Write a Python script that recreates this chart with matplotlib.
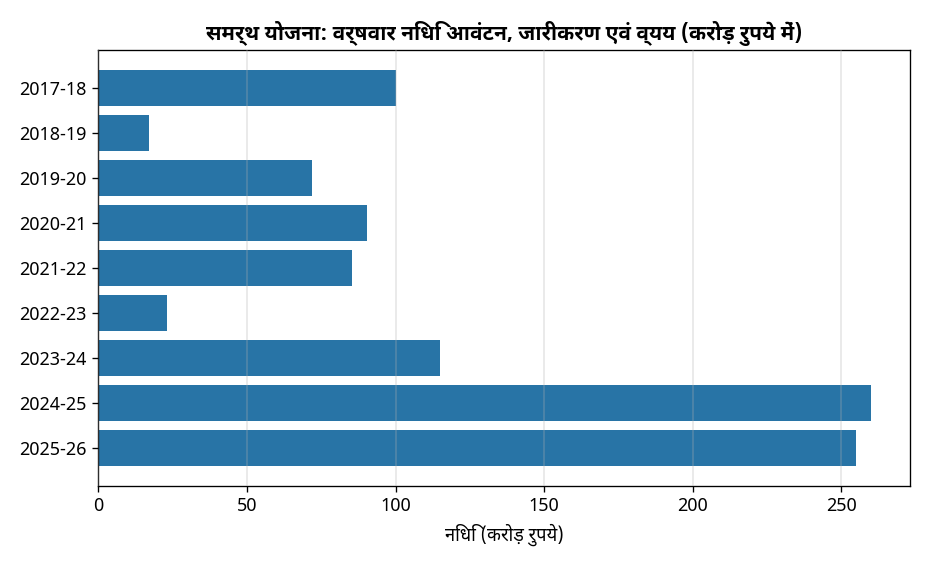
import matplotlib
matplotlib.use("Agg")
import matplotlib.pyplot as plt

years = ["2017-18", "2018-19", "2019-20", "2020-21", "2021-22",
         "2022-23", "2023-24", "2024-25", "2025-26"]
funds = [100, 17, 72, 90.5, 85.5, 23, 115, 260, 255]

title = "समर्थ योजना: वर्षवार निधि आवंटन, जारीकरण एवं व्यय (करोड़ रुपये में)"
xlabel = "निधि (करोड़ रुपये)"

plt.rcParams['font.family'] = ["Noto Sans", "Noto Sans Devanagari UI", "DejaVu Sans"]
deva_fams = ["Noto Sans Devanagari UI", "Noto Sans", "DejaVu Sans"]

fig = plt.figure(figsize=(7.8, 4.7667), dpi=120)
ax = fig.add_axes([0.105, 0.151, 0.867, 0.7617])
ax.barh(years, funds, height=0.8, color="#2874a6", zorder=2)
ax.invert_yaxis()
ax.grid(axis="x", color="#b0b0b0", alpha=0.35, linewidth=0.9, zorder=3)
ax.set_axisbelow(False)
ax.set_title(title, fontsize=12.5, fontweight="bold", pad=6, family=deva_fams)
ax.set_xlabel(xlabel, fontsize=11, labelpad=5, family=deva_fams)
ax.tick_params(labelsize=10.8)
fig.savefig("out.png", dpi=120)
